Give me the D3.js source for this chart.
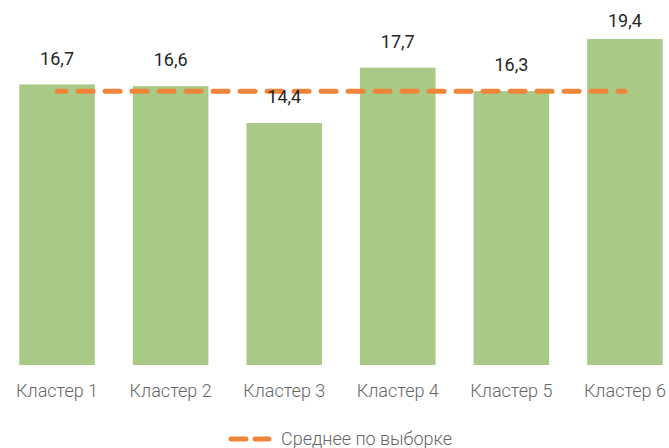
<!DOCTYPE html>
<html>
<head>
<meta charset="utf-8">
<script src="https://cdn.jsdelivr.net/npm/d3@7"></script>
<style>
  body { margin: 0; background: #fff; }
  svg { display: block; font-family: Roboto, "Noto Sans", sans-serif; }
</style>
</head>
<body>
<div id="chart"></div>
<script>
var categories = ['Кластер 1', 'Кластер 2', 'Кластер 3', 'Кластер 4', 'Кластер 5', 'Кластер 6'];
var values = [16.7, 16.6, 14.4, 17.7, 16.3, 19.4];
var sampleMean = 16.3;
var legendLabel = 'Среднее по выборке';

var width = 669, height = 448;

var svg = d3.select('#chart')
    .append('svg')
    .attr('width', width)
    .attr('height', height);

var x = d3.scaleBand()
    .domain(categories)
    .range([0, 682])
    .paddingInner(0.335)
    .paddingOuter(0.17);

var y = d3.scaleLinear()
    .domain([0, 20])
    .range([365, 29]);

var fmt = function(v) { return d3.format('.1f')(v).replace('.', ','); };

// bars
svg.append('g')
    .selectAll('rect')
    .data(values)
    .enter()
    .append('rect')
    .attr('x', function(d, i) { return x(categories[i]); })
    .attr('y', function(d) { return y(d); })
    .attr('width', x.bandwidth())
    .attr('height', function(d) { return y(0) - y(d); })
    .attr('fill', '#a9c987');

// mean line across category centres
var meanLine = d3.line()
    .x(function(d) { return x(d) + x.bandwidth() / 2; })
    .y(function() { return y(sampleMean); });

svg.append('path')
    .datum([categories[0], categories[categories.length - 1]])
    .attr('d', meanLine)
    .attr('fill', 'none')
    .attr('stroke', '#ef8538')
    .attr('stroke-width', 5)
    .attr('stroke-linecap', 'round')
    .attr('stroke-dasharray', '15 12')
    .attr('stroke-dashoffset', 6);

// value labels
svg.append('g')
    .selectAll('text')
    .data(values)
    .enter()
    .append('text')
    .attr('x', function(d, i) { return x(categories[i]) + x.bandwidth() / 2; })
    .attr('y', function(d) { return Math.max(y(d) - 26, 21); })
    .attr('dy', '0.35em')
    .attr('text-anchor', 'middle')
    .attr('font-size', 18)
    .attr('fill', '#262626')
    .text(fmt);

// category axis labels
svg.append('g')
    .selectAll('text')
    .data(categories)
    .enter()
    .append('text')
    .attr('x', function(d) { return x(d) + x.bandwidth() / 2; })
    .attr('y', 391)
    .attr('dy', '0.35em')
    .attr('text-anchor', 'middle')
    .attr('font-size', 18)
    .attr('font-weight', 300)
    .attr('fill', '#666666')
    .text(function(d) { return d; });

// legend
var legend = svg.append('g').attr('transform', 'translate(231,439)');

legend.append('line')
    .attr('x1', 0)
    .attr('x2', 38)
    .attr('stroke', '#ef8538')
    .attr('stroke-width', 5)
    .attr('stroke-linecap', 'round')
    .attr('stroke-dasharray', '15 9');

legend.append('text')
    .attr('x', 50)
    .attr('dy', '0.35em')
    .attr('font-size', 18)
    .attr('font-weight', 300)
    .attr('fill', '#666666')
    .text(legendLabel);
</script>
</body>
</html>
